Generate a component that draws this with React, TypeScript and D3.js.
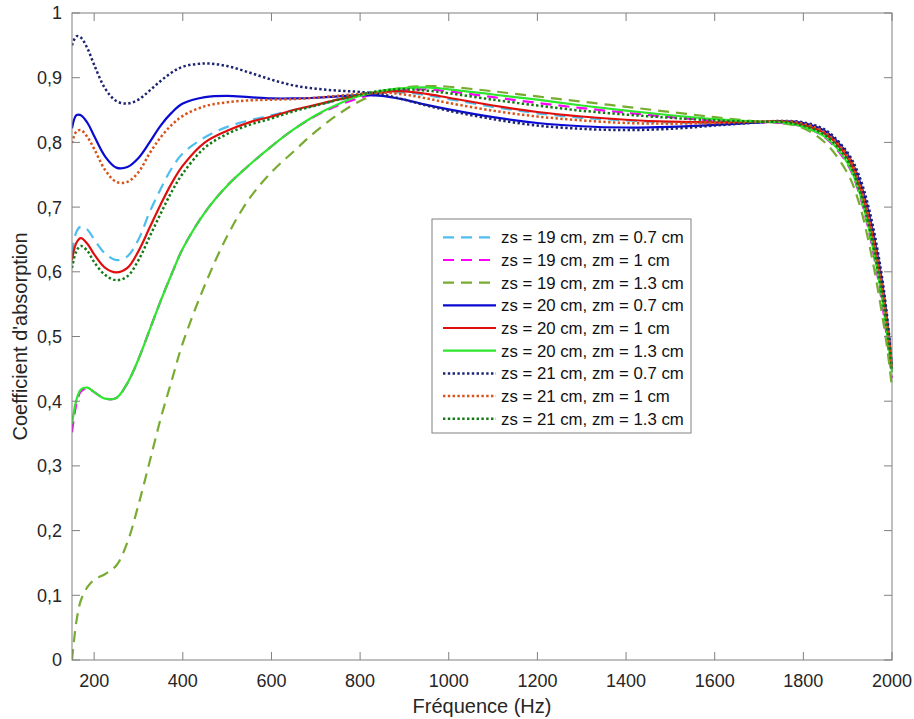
import React from 'react';
import * as d3 from 'd3';

// Frequency grid (Hz)
const freqs = [150,160,170,185,200,225,250,275,300,325,350,375,400,450,500,550,600,650,700,750,800,850,900,950,1000,1100,1200,1300,1400,1500,1600,1700,1750,1800,1850,1900,1925,1950,1975,1990,2000];

// Absorption coefficient series
const zs19zm07 = [0.628,0.662,0.670,0.665,0.650,0.628,0.618,0.624,0.650,0.692,0.728,0.760,0.783,0.808,0.824,0.834,0.842,0.850,0.857,0.865,0.872,0.877,0.877,0.873,0.867,0.855,0.845,0.838,0.834,0.831,0.830,0.831,0.832,0.827,0.813,0.776,0.735,0.672,0.582,0.510,0.450];
const zs19zm1 = [0.352,0.396,0.415,0.420,0.414,0.404,0.405,0.428,0.465,0.510,0.555,0.597,0.636,0.692,0.733,0.765,0.794,0.820,0.841,0.857,0.869,0.877,0.881,0.882,0.879,0.870,0.861,0.853,0.846,0.839,0.834,0.831,0.830,0.824,0.807,0.766,0.723,0.656,0.563,0.490,0.436];
const zs19zm13 = [0.000,0.060,0.092,0.113,0.124,0.133,0.146,0.182,0.240,0.306,0.373,0.432,0.490,0.580,0.655,0.713,0.754,0.786,0.817,0.843,0.864,0.877,0.885,0.887,0.886,0.879,0.871,0.863,0.855,0.847,0.839,0.832,0.830,0.822,0.799,0.752,0.708,0.638,0.545,0.478,0.420];
const zs20zm07 = [0.822,0.842,0.842,0.830,0.810,0.778,0.761,0.762,0.776,0.800,0.826,0.846,0.860,0.870,0.872,0.870,0.868,0.868,0.869,0.871,0.873,0.872,0.866,0.858,0.851,0.839,0.830,0.825,0.823,0.824,0.827,0.831,0.833,0.830,0.817,0.781,0.744,0.684,0.595,0.520,0.452];
const zs20zm1 = [0.618,0.645,0.652,0.643,0.627,0.606,0.599,0.606,0.632,0.668,0.704,0.737,0.764,0.800,0.818,0.831,0.840,0.850,0.858,0.866,0.873,0.878,0.879,0.875,0.869,0.857,0.847,0.840,0.835,0.832,0.831,0.832,0.832,0.827,0.813,0.776,0.735,0.672,0.582,0.510,0.450];
const zs20zm13 = [0.365,0.402,0.418,0.421,0.414,0.404,0.405,0.428,0.465,0.510,0.555,0.597,0.636,0.692,0.733,0.765,0.794,0.820,0.842,0.859,0.872,0.880,0.884,0.885,0.882,0.874,0.866,0.857,0.849,0.842,0.836,0.832,0.831,0.824,0.808,0.768,0.726,0.660,0.570,0.500,0.445];
const zs21zm07 = [0.950,0.964,0.962,0.945,0.920,0.883,0.864,0.860,0.866,0.880,0.895,0.908,0.917,0.922,0.918,0.908,0.897,0.888,0.883,0.880,0.878,0.874,0.866,0.857,0.849,0.836,0.826,0.821,0.819,0.821,0.826,0.831,0.833,0.831,0.819,0.784,0.750,0.692,0.603,0.525,0.455];
const zs21zm1 = [0.799,0.817,0.819,0.808,0.790,0.757,0.739,0.739,0.754,0.783,0.808,0.827,0.841,0.856,0.862,0.865,0.866,0.867,0.869,0.872,0.875,0.877,0.874,0.868,0.861,0.849,0.840,0.834,0.830,0.829,0.830,0.832,0.833,0.829,0.815,0.779,0.740,0.678,0.588,0.515,0.450];
const zs21zm13 = [0.606,0.632,0.640,0.632,0.615,0.595,0.587,0.593,0.618,0.654,0.690,0.724,0.752,0.792,0.813,0.827,0.837,0.848,0.857,0.866,0.874,0.880,0.882,0.880,0.876,0.866,0.857,0.849,0.843,0.838,0.834,0.832,0.832,0.826,0.811,0.772,0.730,0.665,0.575,0.505,0.448];

const seriesLabels = [
  'zs = 19 cm, zm = 0.7 cm',
  'zs = 19 cm, zm = 1 cm',
  'zs = 19 cm, zm = 1.3 cm',
  'zs = 20 cm, zm = 0.7 cm',
  'zs = 20 cm, zm = 1 cm',
  'zs = 20 cm, zm = 1.3 cm',
  'zs = 21 cm, zm = 0.7 cm',
  'zs = 21 cm, zm = 1 cm',
  'zs = 21 cm, zm = 1.3 cm',
];
const seriesValues = [zs19zm07, zs19zm1, zs19zm13, zs20zm07, zs20zm1, zs20zm13, zs21zm07, zs21zm1, zs21zm13];

const xTicks = [200,400,600,800,1000,1200,1400,1600,1800,2000];
const yTicks = [0,0.1,0.2,0.3,0.4,0.5,0.6,0.7,0.8,0.9,1];

const xLabel = 'Fréquence (Hz)';
const yLabel = "Coefficient d'absorption";

// styles
const seriesColors = ['#4DBEEE','#FF00FF','#77AC30','#0a0ad2','#e00f0f','#2ee62e','#1c2470','#D95319','#127a12'];
const seriesKinds = ['dash','dash','dash','solid','solid','solid','dot','dot','dot'];

const FONT = '"Liberation Sans", Arial, Helvetica, sans-serif';
const TXT = '#262626';
const AX = '#808080';

function dashFor(kind: string) {
  if (kind === 'dash') return '11,7';
  if (kind === 'dot') return '2.4,2.4';
  return undefined;
}
function widthFor(kind: string) {
  if (kind === 'dot') return 2.5;
  return 2.2;
}

export default function App() {
  const W = 914, H = 719;
  const L = 72, R = 892, T = 13, B = 660;
  const x = d3.scaleLinear().domain([150, 2000]).range([L, R]);
  const y = d3.scaleLinear().domain([0, 1]).range([B, T]);
  const line = d3.line<[number, number]>()
    .x(d => x(d[0]))
    .y(d => y(d[1]))
    .curve(d3.curveCatmullRom.alpha(0.5));

  const fmtY = (v: number) => (v === 0 ? '0' : v === 1 ? '1' : d3.format('.1f')(v).replace('.', ','));
  const tickLen = 8;

  const legX = 432, legY = 219, legW = 259, legH = 214;
  const row0 = 237.3, rowStep = 22.68;

  return (
    <svg width={W} height={H} style={{ position: 'absolute', left: 0, top: 0, background: '#fff' }} fontFamily={FONT}>
      <rect x={0} y={0} width={W} height={H} fill="#fff" />
      <defs>
        <clipPath id="plotclip">
          <rect x={L} y={T - 2} width={R - L + 2} height={B - T + 4} />
        </clipPath>
      </defs>

      {/* series */}
      <g clipPath="url(#plotclip)">
        {seriesValues.map((vals, i) => (
          <path
            key={i}
            d={line(freqs.map((f, j) => [f, vals[j]] as [number, number])) || ''}
            fill="none"
            stroke={seriesColors[i]}
            strokeWidth={widthFor(seriesKinds[i])}
            strokeDasharray={dashFor(seriesKinds[i])}
            strokeLinejoin="round"
          />
        ))}
      </g>

      {/* axes box */}
      <rect x={L} y={T} width={R - L} height={B - T} fill="none" stroke={AX} strokeWidth={1} />

      {/* x ticks */}
      {xTicks.map(t => (
        <g key={'x' + t}>
          <line x1={x(t)} x2={x(t)} y1={B} y2={B - tickLen} stroke={AX} />
          <line x1={x(t)} x2={x(t)} y1={T} y2={T + tickLen} stroke={AX} />
          <text x={x(t)} y={686.5} textAnchor="middle" fontSize={18} fill={TXT}>{t}</text>
        </g>
      ))}

      {/* y ticks */}
      {yTicks.map(t => (
        <g key={'y' + t}>
          <line x1={L} x2={L + tickLen} y1={y(t)} y2={y(t)} stroke={AX} />
          <line x1={R} x2={R - tickLen} y1={y(t)} y2={y(t)} stroke={AX} />
          <text x={62} y={y(t)} dy="0.36em" textAnchor="end" fontSize={18} fill={TXT}>{fmtY(t)}</text>
        </g>
      ))}

      {/* axis labels */}
      <text x={(L + R) / 2} y={713} textAnchor="middle" fontSize={20} fill={TXT}>{xLabel}</text>
      <text transform={`translate(27, ${(T + B) / 2}) rotate(-90)`} textAnchor="middle" fontSize={20} fill={TXT}>{yLabel}</text>

      {/* legend */}
      <rect x={legX} y={legY} width={legW} height={legH} fill="#fff" stroke={AX} strokeWidth={1} />
      {seriesLabels.map((lab, i) => {
        const yy = row0 + i * rowStep;
        return (
          <g key={'l' + i}>
            <line x1={443} x2={496} y1={yy} y2={yy} stroke={seriesColors[i]}
              strokeWidth={widthFor(seriesKinds[i])} strokeDasharray={dashFor(seriesKinds[i])} />
            <text x={501} y={yy} dy="0.36em" fontSize={16.8} fill="#111">{lab}</text>
          </g>
        );
      })}
    </svg>
  );
}
